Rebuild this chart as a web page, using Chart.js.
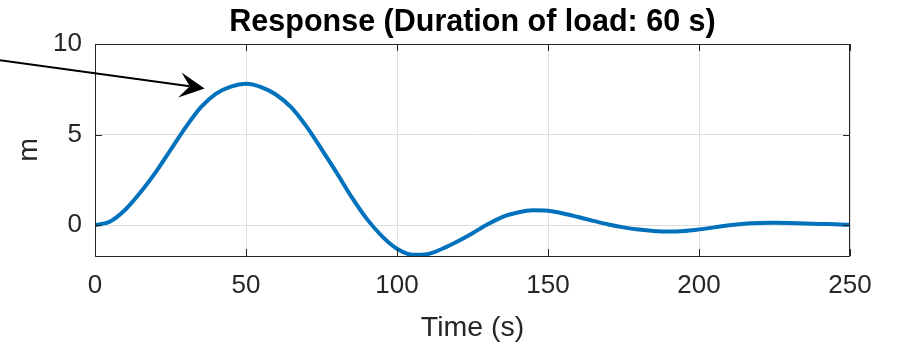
<!DOCTYPE html>
<html>
<head>
<meta charset="utf-8">
<title>Response</title>
<script src="https://cdn.jsdelivr.net/npm/chart.js@4.4.1/dist/chart.umd.min.js"></script>
<style>
  html, body { margin: 0; padding: 0; background: #fff; }
  canvas { display: block; }
</style>
</head>
<body>
<canvas id="response" width="900" height="345"></canvas>
<script>
// ===================== data =====================
const times = [0, 5, 10, 15, 20, 25, 30, 35, 40, 45, 50, 55, 60, 65, 70, 75, 80, 85, 90, 95, 100,
  105, 110, 115, 120, 125, 130, 135, 140, 145, 150, 155, 160, 165, 170, 175, 180, 185, 190, 195, 200,
  205, 210, 215, 220, 225, 230, 235, 240, 245, 250]
const displacement = [0, 0.2, 0.85, 1.8, 2.9, 4.15, 5.4, 6.5, 7.25, 7.65, 7.8, 7.62, 7.2, 6.5, 5.45, 4.2, 2.9, 1.55, 0.35, -0.6, -1.3,
  -1.63, -1.6, -1.3, -0.9, -0.44, 0.05, 0.46, 0.7, 0.82, 0.8, 0.65, 0.45, 0.24, 0.04, -0.12, -0.24, -0.32, -0.35, -0.32, -0.23,
  -0.12, 0, 0.08, 0.12, 0.13, 0.12, 0.1, 0.07, 0.05, 0.02]
const xTicks = [0, 50, 100, 150, 200, 250]
const yTicks = [0, 5, 10]
const titleText = "Response (Duration of load: 60 s)"
// arrow annotation, in axis units (tail starts left of the axes)
const arrowFrom = [-31.5, 9.1]
const arrowTo = [36.3, 7.55]

const AXIS = "#262626"
const FONT = "'Liberation Sans', Arial, Helvetica, sans-serif"

// ===================== frame, inward ticks, title, arrow =====================
const framePlugin = {
  id: "frame",
  afterDraw(chart) {
    const ctx = chart.ctx
    const a = chart.chartArea
    const x = chart.scales.x
    const y = chart.scales.y
    const tick = 7

    ctx.save()
    ctx.strokeStyle = AXIS
    ctx.lineWidth = 1
    ctx.strokeRect(Math.round(a.left) + 0.5, Math.round(a.top) + 0.5,
      Math.round(a.right - a.left) - 1, Math.round(a.bottom - a.top))

    ctx.beginPath()
    xTicks.forEach(v => {
      const px = Math.round(x.getPixelForValue(v)) + 0.5
      ctx.moveTo(px, a.bottom); ctx.lineTo(px, a.bottom - tick)
      ctx.moveTo(px, a.top); ctx.lineTo(px, a.top + tick)
    })
    yTicks.forEach(v => {
      const py = Math.round(y.getPixelForValue(v)) + 0.5
      ctx.moveTo(a.left, py); ctx.lineTo(a.left + tick, py)
      ctx.moveTo(a.right, py); ctx.lineTo(a.right - tick, py)
    })
    ctx.stroke()

    // title
    ctx.fillStyle = "#000"
    ctx.font = "bold 30.5px " + FONT
    ctx.textAlign = "center"
    ctx.textBaseline = "middle"
    ctx.fillText(titleText, (a.left + a.right) / 2, 23)

    // arrow with notched head
    const x0 = x.getPixelForValue(arrowFrom[0]), y0 = y.getPixelForValue(arrowFrom[1])
    const x1 = x.getPixelForValue(arrowTo[0]), y1 = y.getPixelForValue(arrowTo[1])
    const len = Math.hypot(x1 - x0, y1 - y0)
    const ux = (x1 - x0) / len, uy = (y1 - y0) / len
    const nx = -uy, ny = ux
    const headLen = 25, headHalf = 12.5, notch = 15
    const bx = x1 - ux * headLen, by = y1 - uy * headLen
    const mx = x1 - ux * notch, my = y1 - uy * notch

    ctx.strokeStyle = "#000"
    ctx.lineWidth = 2
    ctx.beginPath()
    ctx.moveTo(x0, y0)
    ctx.lineTo(mx, my)
    ctx.stroke()

    ctx.fillStyle = "#000"
    ctx.beginPath()
    ctx.moveTo(x1, y1)
    ctx.lineTo(bx + nx * headHalf, by + ny * headHalf)
    ctx.lineTo(mx, my)
    ctx.lineTo(bx - nx * headHalf, by - ny * headHalf)
    ctx.closePath()
    ctx.fill()
    ctx.restore()
  }
}

// ===================== chart =====================
const ctxResponse = document.getElementById("response").getContext("2d")
let responseChart = new Chart(ctxResponse, {
  type: "line",
  data: {
    datasets: [{
      label: "response",
      data: times.map((t, i) => ({ x: t, y: displacement[i] })),
      borderColor: "#0072BD",
      borderWidth: 4,
      pointRadius: 0,
      cubicInterpolationMode: "monotone",
      fill: false
    }]
  },
  options: {
    responsive: false,
    animation: false,
    events: [],
    layout: { padding: { top: 44, right: 50, bottom: 0, left: 0 } },
    plugins: {
      legend: { display: false },
      tooltip: { enabled: false },
      title: { display: false }
    },
    scales: {
      x: {
        type: "linear",
        min: 0,
        max: 250,
        afterBuildTicks: s => { s.ticks = xTicks.map(v => ({ value: v })) },
        afterFit: s => { s.height = 89 },
        grid: { color: "#dfdfdf", drawTicks: false },
        border: { display: false },
        ticks: { color: AXIS, padding: 14, maxRotation: 0, font: { family: FONT, size: 26 } },
        title: {
          display: true,
          text: "Time (s)",
          color: AXIS,
          padding: { top: 0, bottom: 0 },
          font: { family: FONT, size: 28.5 }
        }
      },
      y: {
        min: -1.7,
        max: 10,
        afterBuildTicks: s => { s.ticks = yTicks.map(v => ({ value: v })) },
        afterFit: s => { s.width = 95 },
        grid: { color: "#dfdfdf", drawTicks: false },
        border: { display: false },
        ticks: { color: AXIS, padding: 13, font: { family: FONT, size: 26 } },
        title: {
          display: true,
          text: "m",
          color: AXIS,
          padding: { top: 12, bottom: 0 },
          font: { family: FONT, size: 28.5 }
        }
      }
    }
  },
  plugins: [framePlugin]
})
</script>
</body>
</html>
